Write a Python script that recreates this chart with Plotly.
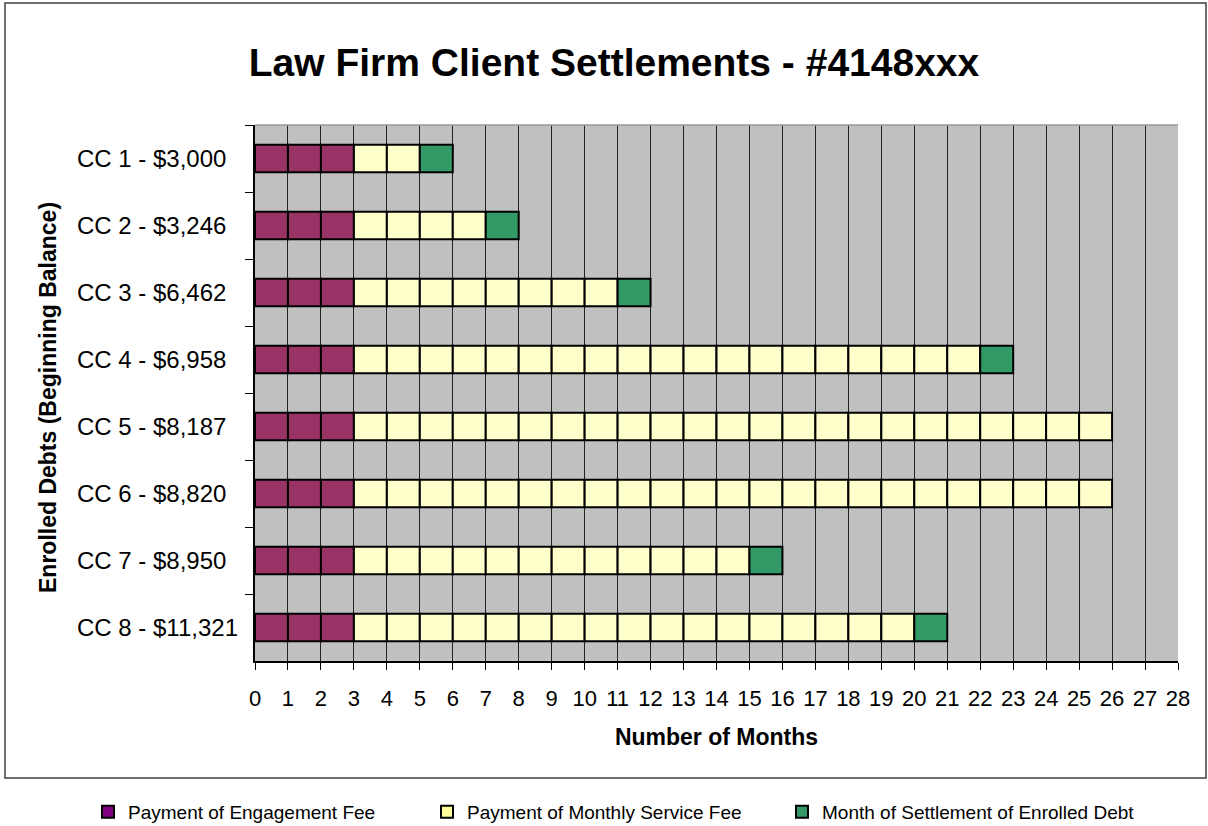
import plotly.graph_objects as go

categories = ["CC 1 - $3,000", "CC 2 - $3,246", "CC 3 - $6,462", "CC 4 - $6,958",
              "CC 5 - $8,187", "CC 6 - $8,820", "CC 7 - $8,950", "CC 8 - $11,321"]
engagement_months = [3, 3, 3, 3, 3, 3, 3, 3]
service_months = [2, 4, 8, 19, 23, 23, 12, 17]
settlement_months = [1, 1, 1, 1, 0, 0, 1, 1]

series_names = ["Payment of Engagement Fee", "Payment of Monthly Service Fee",
                "Month of Settlement of Enrolled Debt"]
bar_colors = ["#993366", "#FFFFCC", "#339966"]
legend_colors = ["#800080", "#FFFF99", "#339966"]
x_ticks = list(range(0, 29))

W, H = 1208, 826
L, R, T, B = 255, 1178, 125, 661
pw, ph = R - L, B - T

def px_x(p):
    return (p - L) / pw

def px_y(p):
    return (B - p) / ph

fig = go.Figure()

series = [engagement_months, service_months, settlement_months]
for s_idx, counts in enumerate(series):
    ys, bases = [], []
    for i, cat in enumerate(categories):
        start = sum(series[k][i] for k in range(s_idx))
        for m in range(counts[i]):
            ys.append(cat)
            bases.append(start + m)
    fig.add_trace(go.Bar(
        y=ys, x=[1] * len(ys), base=bases, orientation="h",
        marker=dict(color=bar_colors[s_idx], line=dict(color="black", width=2)),
        width=0.41, showlegend=False, name=series_names[s_idx], hoverinfo="skip",
    ))

legend_ids = ["legend", "legend2", "legend3"]
for s_idx in range(3):
    fig.add_trace(go.Bar(
        y=[categories[0]], x=[0], base=[0], orientation="h",
        marker=dict(color=legend_colors[s_idx], line=dict(color="black", width=2)),
        width=0.41, showlegend=True, name=series_names[s_idx], hoverinfo="skip",
        legend=legend_ids[s_idx],
    ))

legend_lefts = [88, 427, 782]
leg_common = dict(orientation="h", xanchor="left", yanchor="middle",
                  font=dict(size=19), bgcolor="rgba(0,0,0,0)")

annotations = [
    dict(text=cat, x=px_x(75), xref="paper", y=cat, yref="y",
         xanchor="left", yanchor="middle", showarrow=False,
         font=dict(size=24, color="black"))
    for cat in categories
]
annotations.append(dict(
    text="<b>Enrolled Debts (Beginning Balance)</b>", textangle=-90,
    x=px_x(48), xref="paper", y=px_y(398), yref="paper",
    xanchor="center", yanchor="middle", showarrow=False,
    font=dict(size=23, color="black")))

fig.update_layout(
    width=W, height=H,
    margin=dict(l=L, r=W - R, t=T, b=H - B, autoexpand=False),
    paper_bgcolor="white", plot_bgcolor="#C0C0C0",
    barmode="overlay",
    font=dict(family="Liberation Sans, Arial, sans-serif", color="black", size=20),
    title=dict(text="<b>Law Firm Client Settlements - #4148xxx</b>",
               x=px_x(614), xref="paper", xanchor="center",
               y=1 - 62 / H, yanchor="middle",
               font=dict(size=39, color="black")),
    xaxis=dict(range=[0, 28], tickmode="array", tickvals=x_ticks,
               showgrid=True, gridcolor="#222222", gridwidth=1,
               showline=True, linecolor="black", linewidth=1.5,
               ticks="outside", ticklen=7, tickcolor="black",
               tickfont=dict(size=22), zeroline=False, ticklabelstandoff=10,
               title=dict(text="<b>Number of Months</b>", font=dict(size=23), standoff=19)),
    yaxis=dict(categoryorder="array", categoryarray=categories, autorange="reversed",
               showgrid=False, showline=True, linecolor="black", linewidth=1.5,
               ticks="outside", ticklen=8, tickcolor="black", tickson="boundaries",
               showticklabels=False),
    legend=dict(x=px_x(legend_lefts[0]), y=px_y(812), **leg_common),
    legend2=dict(x=px_x(legend_lefts[1]), y=px_y(812), **leg_common),
    legend3=dict(x=px_x(legend_lefts[2]), y=px_y(812), **leg_common),
    annotations=annotations,
    shapes=[
        dict(type="rect", xref="paper", yref="paper",
             x0=px_x(5), x1=px_x(1206), y0=px_y(778), y1=px_y(3),
             line=dict(color="#404040", width=1.5), fillcolor="rgba(0,0,0,0)", layer="below"),
        dict(type="line", xref="paper", yref="paper", x0=0, x1=1, y0=1, y1=1,
             line=dict(color="#9a9a9a", width=1.5)),
    ],
)

fig.write_html("out.html", config={"displayModeBar": False},
               post_script="document.body.style.margin='0';document.body.style.overflow='hidden';")
